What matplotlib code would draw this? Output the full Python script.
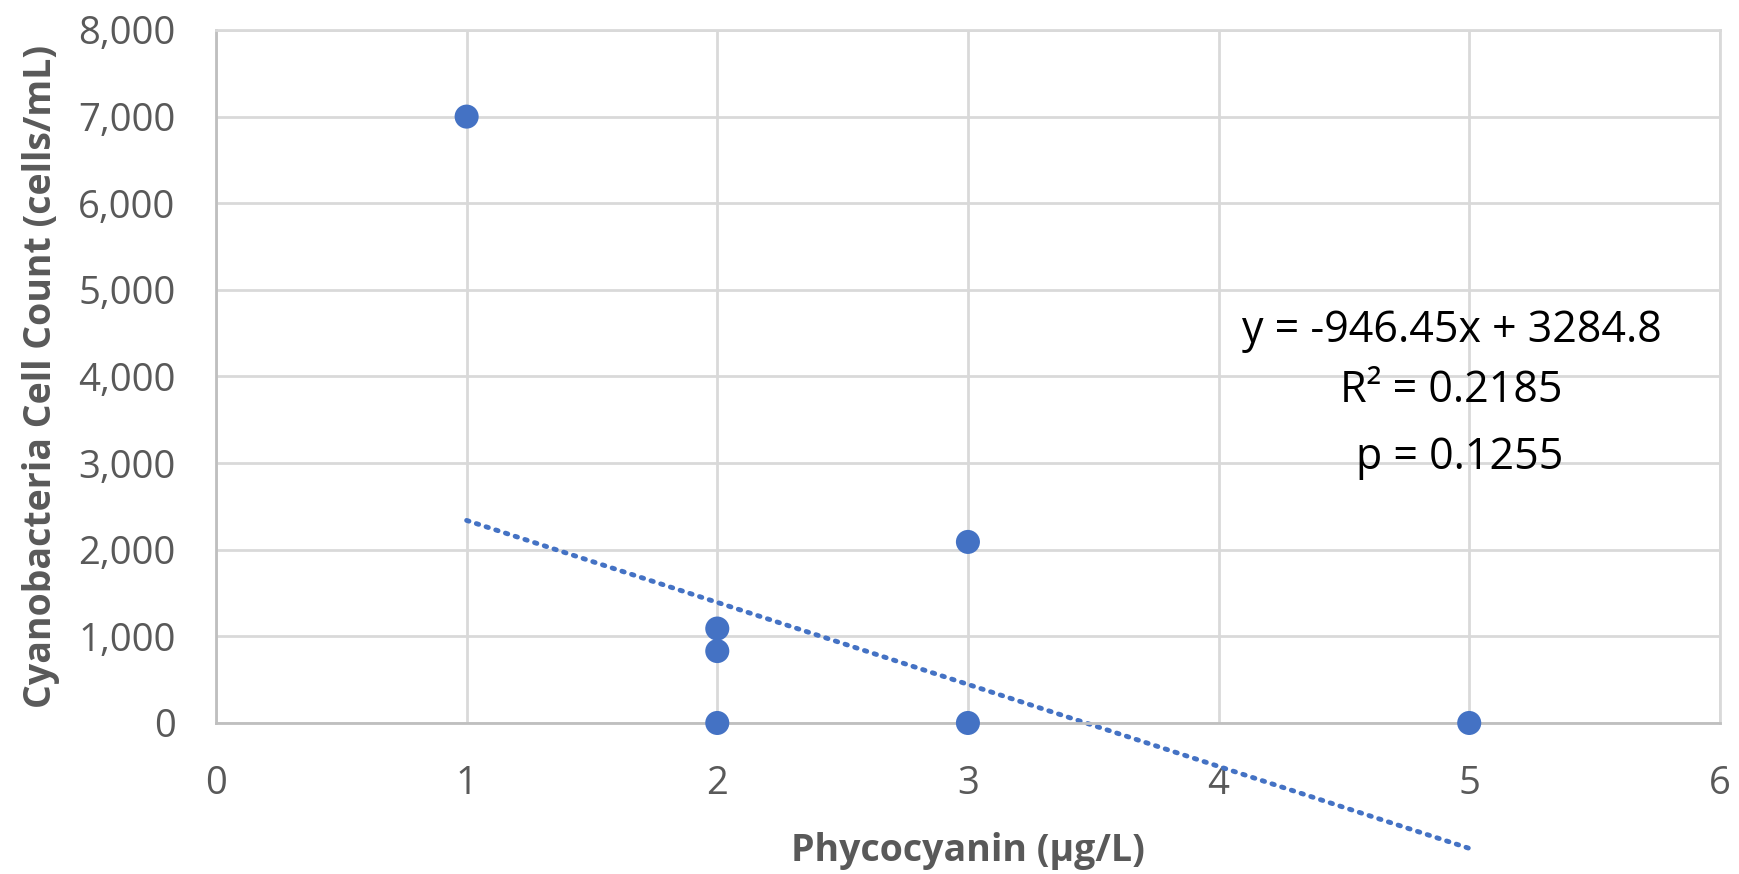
import matplotlib
matplotlib.use("Agg")
import matplotlib.pyplot as plt
import numpy as np
from matplotlib.ticker import FuncFormatter

# Data
phycocyanin = [1, 2, 2, 2, 3, 3, 5]
cell_count = [7000, 1090, 830, 0, 2090, 0, 0]
trend_slope = -946.45
trend_intercept = 3284.8
r_squared = 0.2185
p_value = 0.1255
x_ticks = [0, 1, 2, 3, 4, 5, 6]
y_ticks = [0, 1000, 2000, 3000, 4000, 5000, 6000, 7000, 8000]

BLUE = "#4472C4"
GRID = "#D9D9D9"
AXIS = "#BFBFBF"
TXT = "#595959"
FONT = "Open Sans"

plt.rcParams['font.family'] = [FONT, 'DejaVu Sans']

fig = plt.figure(figsize=(17.39, 8.74), dpi=100)
ax = fig.add_axes([0.1242, 0.1728, 0.989 - 0.1242, 0.9657 - 0.1728])

ax.set_xlim(0, 6)
ax.set_ylim(0, 8000)
ax.set_xticks(x_ticks)
ax.set_yticks(y_ticks)
ax.yaxis.set_major_formatter(FuncFormatter(lambda v, p: f"{int(v):,}"))

ax.grid(True, color=GRID, linewidth=2, zorder=0)
ax.set_axisbelow(True)
for side in ["top", "right"]:
    ax.spines[side].set_color(GRID)
    ax.spines[side].set_linewidth(2)
for side in ["left", "bottom"]:
    ax.spines[side].set_color(AXIS)
    ax.spines[side].set_linewidth(2)

ax.tick_params(axis="both", length=0, labelsize=27.5, labelcolor=TXT)
ax.tick_params(axis="x", pad=30)
ax.tick_params(axis="y", pad=29)

# Trendline over the data range
xt = np.array([min(phycocyanin), max(phycocyanin)])
yt = trend_slope * xt + trend_intercept
ax.plot(xt, yt, linestyle=(0, (0.5, 1.6)), color=BLUE, linewidth=3.5,
        dash_capstyle="round", clip_on=False, zorder=2)

ax.scatter(phycocyanin, cell_count, s=300, color=BLUE, zorder=3, clip_on=False,
           edgecolors="none")

ax.set_xlabel("Phycocyanin (µg/L)", fontsize=27, fontweight="bold", color=TXT,
              labelpad=21)
ax.set_ylabel("Cyanobacteria Cell Count (cells/mL)", fontsize=27,
              fontweight="bold", color=TXT, labelpad=13)

ax.text(4.93, 4530, f"y = {trend_slope}x + {trend_intercept}", fontsize=31,
        ha="center", va="center", color="black")
ax.text(4.93, 3830, f"R² = {r_squared}", fontsize=31, ha="center", va="center",
        color="black")
ax.text(4.96, 3060, f"p = {p_value}", fontsize=31, ha="center", va="center",
        color="black")

fig.savefig("out.png", dpi=100)
